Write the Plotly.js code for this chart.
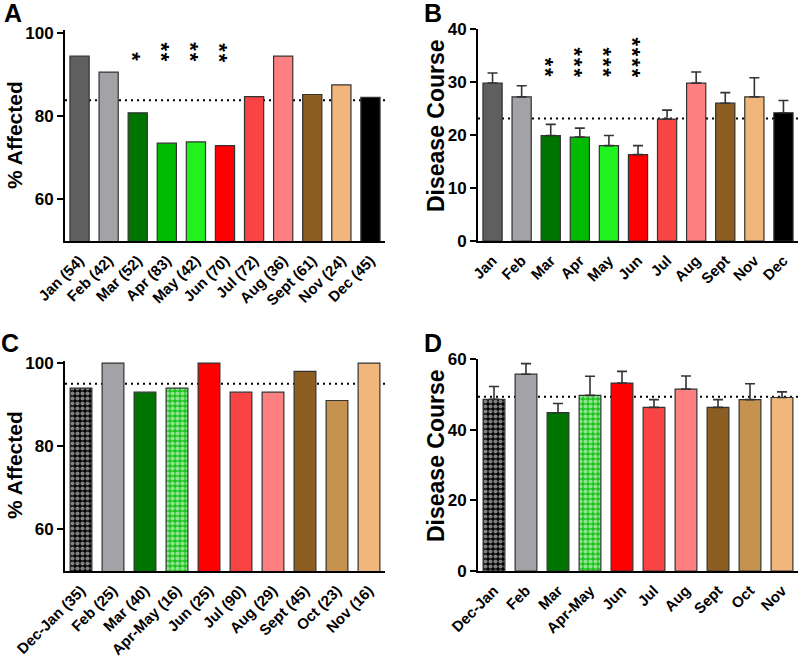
<!DOCTYPE html>
<html>
<head>
<meta charset="utf-8">
<script src="https://cdn.plot.ly/plotly-3.0.1.min.js"></script>
<style>html,body{margin:0;padding:0;background:#fff;}#chart{width:800px;height:663px;}</style>
</head>
<body>
<div id="chart"></div>
<script>
// ---------------- DATA ----------------
const catsA = ['Jan (54)', 'Feb (42)', 'Mar (52)', 'Apr (83)', 'May (42)', 'Jun (70)', 'Jul (72)', 'Aug (36)', 'Sept (61)', 'Nov (24)', 'Dec (45)'];
const valsA = [94.4, 90.6, 80.8, 73.5, 73.8, 72.9, 84.7, 94.4, 85.2, 87.5, 84.5];
const refA = 83.8;
const sigA = ['', '', '*', '**', '**', '**', '', '', '', '', ''];

const catsB = ['Jan', 'Feb', 'Mar', 'Apr', 'May', 'Jun', 'Jul', 'Aug', 'Sept', 'Nov', 'Dec'];
const valsB = [29.8, 27.2, 19.9, 19.6, 18.0, 16.3, 23.0, 29.8, 26.0, 27.2, 24.2];
const errB = [1.9, 2.1, 2.1, 1.7, 1.9, 1.7, 1.7, 2.1, 2.0, 3.6, 2.3];
const refB = 23.1;
const sigB = ['', '', '**', '***', '***', '****', '', '', '', '', ''];

const catsC = ['Dec-Jan (35)', 'Feb (25)', 'Mar (40)', 'Apr-May (16)', 'Jun (25)', 'Jul (90)', 'Aug (29)', 'Sept (45)', 'Oct (23)', 'Nov (16)'];
const valsC = [94, 100, 93, 94, 100, 93, 93, 98, 91, 100];
const refC = 95;

const catsD = ['Dec-Jan', 'Feb', 'Mar', 'Apr-May', 'Jun', 'Jul', 'Aug', 'Sept', 'Oct', 'Nov'];
const valsD = [48.6, 55.7, 44.8, 49.7, 53.2, 46.3, 51.5, 46.3, 48.5, 49.1];
const errD = [3.6, 3.0, 2.6, 5.4, 3.3, 2.2, 3.7, 2.2, 4.5, 1.6];
const refD = 49.3;

// ---------------- STYLES ----------------
const colsAB = ['#5f5f5f', '#a2a2a7', '#007400', '#00bb00', '#1ff21f', '#ff0000', '#f94444', '#ff8080', '#8d5e21', '#f0b67c', '#000000'];
const colsCD = ['#000000', '#a2a2a7', '#007400', '#1ec41e', '#ff0000', '#f94444', '#ff8080', '#8d5e21', '#c5924f', '#f0b67c'];
const patShapeCD = ['.', '', '', '.', '', '', '', '', '', ''];
const patFgCD = ['#666666', '#000', '#000', '#44ff44', '#000', '#000', '#000', '#000', '#000', '#000'];

const FONT = 'Liberation Sans, Arial, sans-serif';
const edge = {color: '#333333', width: 1.2};
const errStyle = {color: '#333333', thickness: 1.6, width: 5};

function zeros(n) { return new Array(n).fill(0); }

const pat = {shape: patShapeCD, fgcolor: patFgCD, fillmode: 'overlay', size: 5, solidity: 0.55};
const traces = [
  {type: 'bar', x: catsA, y: valsA, xaxis: 'x', yaxis: 'y', width: 0.66,
   marker: {color: colsAB, line: edge}},
  {type: 'bar', x: catsB, y: valsB, xaxis: 'x2', yaxis: 'y2', width: 0.66,
   marker: {color: colsAB, line: edge},
   error_y: Object.assign({type: 'data', symmetric: false, array: errB, arrayminus: zeros(errB.length)}, errStyle)},
  {type: 'bar', x: catsC, y: valsC, xaxis: 'x3', yaxis: 'y3', width: 0.68,
   marker: {color: colsCD, line: edge, pattern: pat}},
  {type: 'bar', x: catsD, y: valsD, xaxis: 'x4', yaxis: 'y4', width: 0.68,
   marker: {color: colsCD, line: edge, pattern: pat},
   error_y: Object.assign({type: 'data', symmetric: false, array: errD, arrayminus: zeros(errD.length)}, errStyle)}
];

// significance asterisks: one vertical stack of stars per category (rotated text)
function starNotes(cats, sig, base, step, xr, yr) {
  const out = [];
  sig.forEach((s, i) => {
    if (!s) return;
    out.push({text: s.split('').join('\u200A'), xref: xr, yref: yr,
              x: cats[i], y: base + (s.length - 1) * step / 2,
              showarrow: false, textangle: 90, xanchor: 'center', yanchor: 'middle', xshift: -5,
              font: {family: FONT, size: 22, color: '#000', weight: 'bold'}});
  });
  return out;
}

function xax(domain, anchor) {
  return {domain: domain, anchor: anchor, type: 'category', showline: true, linecolor: '#000', linewidth: 2,
          ticks: '', showgrid: false, zeroline: false, tickangle: -45, fixedrange: true, ticklabelstandoff: 3,
          tickfont: {family: FONT, size: 15, color: '#000', weight: 'bold'}};
}
function yax(domain, anchor, range, tv) {
  return {domain: domain, anchor: anchor, range: range, tickvals: tv, showline: true, linecolor: '#000', linewidth: 2,
          ticks: 'outside', ticklen: 6, tickwidth: 2, tickcolor: '#000', showgrid: false, zeroline: false,
          tickfont: {family: FONT, size: 17, color: '#000', weight: 'bold'}, fixedrange: true};
}
function refLine(xr, yr, v) {
  return {type: 'line', xref: xr + ' domain', yref: yr, x0: 0, x1: 1, y0: v, y1: v, layer: 'below',
          line: {color: '#000', width: 2, dash: '2px,4px'}};
}
function label(text, x, y, size, angle) {
  return {text: text, xref: 'paper', yref: 'paper', x: x, y: y, showarrow: false, textangle: angle || 0,
          xanchor: 'center', yanchor: 'middle', font: {family: FONT, size: size, color: '#000', weight: 'bold'}};
}
const H = 663, W = 800;
const layout = {
  width: W, height: H, margin: {l: 0, r: 0, t: 0, b: 0}, showlegend: false,
  paper_bgcolor: '#fff', plot_bgcolor: 'rgba(0,0,0,0)',
  xaxis: xax([65 / W, 385 / W], 'y'),
  yaxis: yax([1 - 241 / H, 1 - 30 / H], 'x', [50, 100.7], [60, 80, 100]),
  xaxis2: xax([478 / W, 798 / W], 'y2'),
  yaxis2: yax([1 - 241 / H, 1 - 29 / H], 'x2', [0, 40], [0, 10, 20, 30, 40]),
  xaxis3: xax([65 / W, 385 / W], 'y3'),
  yaxis3: yax([1 - 571 / H, 1 - 361 / H], 'x3', [50, 100.5], [60, 80, 100]),
  xaxis4: xax([478 / W, 798 / W], 'y4'),
  yaxis4: yax([1 - 571 / H, 1 - 359 / H], 'x4', [0, 60], [0, 20, 40, 60]),
  shapes: [refLine('x', 'y', refA), refLine('x2', 'y2', refB), refLine('x3', 'y3', refC), refLine('x4', 'y4', refD)],
  annotations: [
    label('A', 13 / W, 1 - 13 / H, 25),
    label('B', 433 / W, 1 - 13 / H, 25),
    label('C', 10 / W, 1 - 343 / H, 25),
    label('D', 433 / W, 1 - 343 / H, 25),
    label('% Affected', 15 / W, 1 - 135 / H, 21, -90),
    label('Disease Course', 436 / W, 1 - 126 / H, 23, -90),
    label('% Affected', 15 / W, 1 - 465 / H, 21, -90),
    label('Disease Course', 436 / W, 1 - 456 / H, 23, -90)
  ].concat(starNotes(catsA, sigA, 94.2, 2.3, 'x', 'y'), starNotes(catsB, sigB, 31.8, 1.89, 'x2', 'y2'))
};
Plotly.newPlot('chart', traces, layout, {staticPlot: true, displayModeBar: false});
</script>
</body>
</html>
